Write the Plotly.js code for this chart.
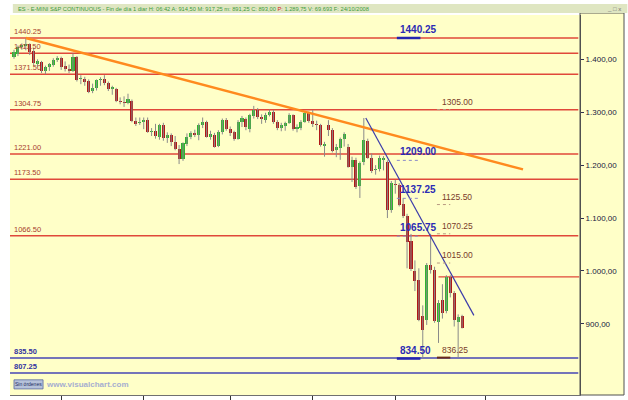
<!DOCTYPE html>
<html><head><meta charset="utf-8">
<script src="https://cdn.plot.ly/plotly-3.0.1.min.js"></script>
<style>html,body{margin:0;padding:0;background:#fff;}#chart{width:628px;height:400px;}</style>
</head><body><div id="chart"></div>
<script>
// ---- data ----
const dates = [
'2008-05-14','2008-05-15','2008-05-16','2008-05-19','2008-05-20','2008-05-21','2008-05-22','2008-05-23','2008-05-27','2008-05-28','2008-05-29','2008-05-30',
'2008-06-02','2008-06-03','2008-06-04','2008-06-05','2008-06-06','2008-06-09','2008-06-10','2008-06-11','2008-06-12','2008-06-13','2008-06-16','2008-06-17','2008-06-18','2008-06-19','2008-06-20','2008-06-23','2008-06-24','2008-06-25','2008-06-26','2008-06-27','2008-06-30',
'2008-07-01','2008-07-02','2008-07-03','2008-07-07','2008-07-08','2008-07-09','2008-07-10','2008-07-11','2008-07-14','2008-07-15','2008-07-16','2008-07-17','2008-07-18','2008-07-21','2008-07-22','2008-07-23','2008-07-24','2008-07-25','2008-07-28','2008-07-29','2008-07-30','2008-07-31',
'2008-08-01','2008-08-04','2008-08-05','2008-08-06','2008-08-07','2008-08-08','2008-08-11','2008-08-12','2008-08-13','2008-08-14','2008-08-15','2008-08-18','2008-08-19','2008-08-20','2008-08-21','2008-08-22','2008-08-25','2008-08-26','2008-08-27','2008-08-28','2008-08-29',
'2008-09-02','2008-09-03','2008-09-04','2008-09-05','2008-09-08','2008-09-09','2008-09-10','2008-09-11','2008-09-12','2008-09-15','2008-09-16','2008-09-17','2008-09-18','2008-09-19','2008-09-22','2008-09-23','2008-09-24','2008-09-25','2008-09-26','2008-09-29','2008-09-30',
'2008-10-01','2008-10-02','2008-10-03','2008-10-06','2008-10-07','2008-10-08','2008-10-09','2008-10-10','2008-10-13','2008-10-14','2008-10-15','2008-10-16','2008-10-17','2008-10-20','2008-10-21','2008-10-22','2008-10-23','2008-10-24'];
const futureDates = ['2008-10-27','2008-10-28','2008-10-29','2008-10-30','2008-10-31','2008-11-03','2008-11-04','2008-11-05','2008-11-06','2008-11-07','2008-11-10','2008-11-11','2008-11-12','2008-11-13','2008-11-14','2008-11-17','2008-11-18','2008-11-19','2008-11-20','2008-11-21','2008-11-24','2008-11-25','2008-11-26','2008-11-28','2008-12-01','2008-12-02','2008-12-03','2008-12-04','2008-12-05'];

const opens = [
1405,1410,1424,1426,1428,1415,1392,1395,1377,1385,1390,1399,
1402,1387,1382,1378,1404,1362,1362,1359,1340,1345,1360,1362,1355,1343,1344,1322,1319,1318,1322,1284,1279,
1282,1285,1263,1265,1254,1276,1251,1257,1243,1230,1212,1240,1254,1260,1256,1276,1282,1254,1257,1237,1263,1285,
1268,1262,1249,1282,1287,1268,1292,1304,1291,1286,1295,1301,1282,1270,1274,1280,1294,1268,1271,1282,1299,
1284,1278,1275,1236,1275,1266,1228,1232,1249,1235,1196,1210,1160,1205,1246,1214,1190,1192,1210,1205,1115,
1165,1162,1126,1103,1056,1000,982,914,907,1012,1002,904,946,925,989,958,903,914.5];
const highs = [
1418,1426,1430,1440.25,1430,1422,1400,1397,1388,1393,1402,1406,
1405,1396,1390,1411,1406,1370,1367,1362,1354,1362,1366,1370,1358,1350,1346,1328,1330,1335,1324,1290,1290,
1290,1290,1270,1278,1278,1280,1262,1260,1255,1238,1243,1260,1264,1267,1279,1290,1284,1265,1261,1266,1288,1289,
1273,1265,1285,1293,1290,1297,1312,1308,1296,1299,1305,1304,1285,1280,1282,1298,1296,1277,1285,1302,1301,
1304,1284,1278,1244,1285,1270,1240,1252,1262,1240,1216,1214,1207,1289,1250,1222,1200,1218,1217,1209,1170,
1172,1166,1137.25,1108,1070,1020,1005,935,1015,1070.25,1008,945,975,992,992,962,918,917.25];
const lows = [
1401,1406,1418,1417,1408,1388,1386,1374,1372,1378,1386,1395,
1380,1377,1374,1376,1358,1353,1350,1336,1336,1341,1350,1351,1340,1333,1319,1315,1310,1315,1281,1274,1276,
1268,1261,1255,1250,1248,1246,1242,1236,1228,1202,1208,1236,1249,1253,1247,1270,1252,1248,1233,1234,1258,1265,
1255,1246,1248,1272,1266,1262,1288,1287,1278,1280,1292,1278,1266,1264,1265,1278,1265,1262,1266,1280,1280,
1272,1266,1235,1216,1255,1224,1215,1210,1235,1195,1168,1155,1138,1200,1212,1185,1182,1188,1190,1100,1110,
1146,1122,1100,1005,1000,962,905,834.5,898,995,902,864,910,920,950,895,836.25,891.25];
const closes = [
1414,1424,1427,1429,1414,1393,1396,1377,1385,1391,1399,1402,
1386,1382,1378,1405,1361,1364,1358,1339,1346,1361,1362,1355,1344,1347,1321,1319,1318,1325,1283,1278,1282,
1285,1263,1265,1255,1276,1252,1257,1243,1230,1212,1241,1254,1260,1257,1276,1282,1254,1259,1235,1263,1285,1268,
1260,1249,1282,1289,1273,1294,1304,1291,1287,1295,1301,1282,1270,1275,1279,1295,1268,1272,1282,1299,1283,
1278,1276,1238,1240,1266,1227,1234,1250,1258,1197,1210,1159,1204,1247,1214,1189,1193,1214,1213,1115,1166,
1162,1125.5,1104,1055,1004,981,908,888,1012,1002,905,940,921,988,958,907,913,893];

const redLevels = [1440.25, 1411.50, 1371.50, 1304.75, 1221.00, 1173.50, 1066.50];
const redLevelLabels = ['1440.25','1411.50','1371.50','1304.75','1221.00','1173.50','1066.50'];
const blueLevels = [835.50, 807.25];
const blueLevelLabels = ['835.50','807.25'];
const partialLevelDate = '2008-10-16';
const partialLevelPrice = 989.00;
const orangeTrendDates = ['2008-05-19','2008-11-14'];
const orangeTrendPrices = [1440.25, 1192];
const blueTrendDates = ['2008-09-19','2008-10-29'];
const blueTrendPrices = [1289, 916];
const blueMarks = [1440.25, 1209.00, 1137.25, 1065.75, 834.50];
const blueMarkLabels = ['1440.25','1209.00','1137.25','1065.75','834.50'];
const brownMarks = [1305.00, 1125.50, 1070.25, 1015.00, 836.25];
const brownMarkLabels = ['1305.00','1125.50','1070.25','1015.00','836.25'];
const monthTickDates = ['2008-06-02','2008-07-01','2008-08-01','2008-09-02','2008-10-01','2008-11-03'];
const monthTickLabels = ['Jun','Jul','Ago','Sep','Oct','Nov'];
const yTickVals = [900,1000,1100,1200,1300,1400];
const yTickText = ['900,00','1.000,00','1.100,00','1.200,00','1.300,00','1.400,00'];
const headerText = 'ES - E-MINI S&P CONTINUOUS - Fin de día 1 diar H: 06:42 A: 914,50 M: 917,25 m: 891,25 C: 893,00 P: 1.289,75 V: 69.693 F: 24/10/2008';

// ---- styles (not data) ----
const blueUnderlineSolid = [true, false, false, false, true];
const brownUnderlineSolid = [false, false, false, false, true];

// ---- build ----
const axisDates = dates.concat(futureDates);
const idx = d => axisDates.indexOf(d);
const xs = dates.map(d => idx(d));

const wickX = [], wickY = [];
xs.forEach((x, i) => { wickX.push(x, x, null); wickY.push(lows[i], highs[i], null); });

const bodyBase = opens.map((o, i) => Math.min(o, closes[i]));
const bodyLen = opens.map((o, i) => Math.max(Math.abs(closes[i] - o), 1));
const bodyCol = opens.map((o, i) => closes[i] >= o ? '#2fb42f' : '#b01818');

const traces = [
  {type:'scatter', mode:'lines', x:wickX, y:wickY, line:{color:'#8a8a8a', width:1}, hoverinfo:'skip', showlegend:false},
  {type:'bar', x:xs, y:bodyLen, base:bodyBase, width:0.78, marker:{color:bodyCol, line:{width:0}}, hoverinfo:'skip', showlegend:false}
];

const shapes = [];
const annotations = [];
const RED = '#e0483a', BLUE = '#4646b4';

// right axis panel
shapes.push({type:'rect', xref:'paper', yref:'paper', x0:1, x1:1.0772, y0:0, y1:1.0053, fillcolor:'#ffffc8', line:{color:'#505050', width:1}, layer:'below'});
// header strip
shapes.push({type:'rect', xref:'paper', yref:'paper', x0:0.005, x1:1.083, y0:1.0053, y1:1.029, fillcolor:'#dfe6c2', line:{width:0}, layer:'below'});
annotations.push({xref:'paper', yref:'paper', x:0.011, y:1.017, xanchor:'left', yanchor:'middle', showarrow:false,
  text: headerText.replace('P: 1.289,75', '<span style="color:#d02020">P:</span> 1.289,75'),
  font:{family:'Arial', size:5.7, color:'#3c9a3c'}});
annotations.push({xref:'paper', yref:'paper', x:1.075, y:1.017, xanchor:'right', yanchor:'middle', showarrow:false,
  text:'_ □ x', font:{family:'Arial', size:6, color:'#707070'}});

// horizontal levels
redLevels.forEach((p, k) => {
  shapes.push({type:'line', xref:'paper', yref:'y', x0:0, x1:0.997, y0:p, y1:p, line:{color:RED, width:1.5}, layer:'below'});
  annotations.push({xref:'paper', yref:'y', x:0.004, y:p, xanchor:'left', yanchor:'bottom', showarrow:false,
    text:redLevelLabels[k], font:{family:'Arial', size:7.5, color:'#a8402e'}});
});
blueLevels.forEach((p, k) => {
  shapes.push({type:'line', xref:'paper', yref:'y', x0:0, x1:0.997, y0:p, y1:p, line:{color:BLUE, width:1.5}, layer:'below'});
  annotations.push({xref:'paper', yref:'y', x:0.004, y:p, xanchor:'left', yanchor:'bottom', showarrow:false,
    text:'<b>'+blueLevelLabels[k]+'</b>', font:{family:'Arial', size:7.5, color:'#3232a0'}});
});
shapes.push({type:'line', xref:'x', yref:'y', x0:idx(partialLevelDate), x1:143.8, y0:partialLevelPrice, y1:partialLevelPrice, line:{color:RED, width:1.3}, layer:'below'});

// trend lines
shapes.push({type:'line', xref:'x', yref:'y', x0:idx(orangeTrendDates[0]), x1:idx(orangeTrendDates[1]) + 0.5, y0:orangeTrendPrices[0], y1:orangeTrendPrices[1], line:{color:'#ff8a1e', width:2.4}});
shapes.push({type:'line', xref:'x', yref:'y', x0:idx(blueTrendDates[0]) + 0.5, x1:idx(blueTrendDates[1]), y0:blueTrendPrices[0], y1:blueTrendPrices[1], line:{color:'#3c3caa', width:1.2}});

// marker labels
const blueCol = idx('2008-10-01') + 0.6, brownCol = idx('2008-10-15') + 0.6;
blueMarks.forEach((p, k) => {
  shapes.push({type:'line', xref:'x', yref:'y', x0:blueCol - 0.2, x1:blueCol + 5.8, y0:p, y1:p,
    line: blueUnderlineSolid[k] ? {color:'#2424b0', width:2.5} : {color:'#8a8ac8', width:1, dash:'dot'}});
  annotations.push({xref:'x', yref:'y', x:blueCol, y:p, xanchor:'left', yanchor:'bottom', yshift:1, showarrow:false,
    text:'<b>'+blueMarkLabels[k]+'</b>', font:{family:'Arial', size:10, color:'#2b2bb4'}});
});
brownMarks.forEach((p, k) => {
  shapes.push({type:'line', xref:'x', yref:'y', x0:brownCol, x1:brownCol + 3.4, y0:p, y1:p,
    line: brownUnderlineSolid[k] ? {color:'#6a2a1a', width:2} : {color:'#b89a80', width:1, dash:'dot'}});
  annotations.push({xref:'x', yref:'y', x:brownCol + 0.9, y:p, xanchor:'left', yanchor:'bottom', yshift:1, showarrow:false,
    text:brownMarkLabels[k], font:{family:'Arial', size:8.5, color:'#7a3c2a'}});
});

// month labels below axis (cut by the window edge, as in the source)
monthTickDates.forEach((d, k) => {
  annotations.push({xref:'x', yref:'paper', x:idx(d), y:-0.004, xanchor:'left', yanchor:'top', xshift:1, showarrow:false,
    text:monthTickLabels[k], font:{family:'Arial', size:9, color:'#333'}});
});

// bottom-left button and site
shapes.push({type:'rect', xref:'paper', yref:'paper', x0:0.007, x1:0.058, y0:0.016, y1:0.040, fillcolor:'#b6c2da', line:{color:'#5a6aa0', width:0.8}});
annotations.push({xref:'paper', yref:'paper', x:0.0325, y:0.028, xanchor:'center', yanchor:'middle', showarrow:false,
  text:'Sin órdenes', font:{family:'Arial', size:5, color:'#1c2c60'}});
annotations.push({xref:'paper', yref:'paper', x:0.060, y:0.028, xanchor:'left', yanchor:'middle', showarrow:false,
  text:'<b>www.visualchart.com</b>', font:{family:'Arial', size:8, color:'#a6aed0'}});

const layout = {
  width:628, height:400,
  margin:{l:10, r:48, t:15, b:5},
  paper_bgcolor:'#ffffff', plot_bgcolor:'#ffffc8',
  showlegend:false, bargap:0,
  xaxis:{type:'linear', range:[-1.02, 144.0], showgrid:false, zeroline:false,
    tickvals: monthTickDates.map(idx), ticktext: monthTickLabels, showticklabels:false,
    ticks:'outside', ticklen:6, tickcolor:'#333', showline:true, linecolor:'#707070', linewidth:1, fixedrange:true},
  yaxis:{side:'right', range:[765.6, 1483.7], showgrid:false, zeroline:false,
    tickvals:yTickVals, ticktext:yTickText, ticks:'outside', ticklen:3, tickcolor:'#303050',
    tickfont:{family:'Arial', size:8, color:'#202040'}, showline:true, linecolor:'#505050', linewidth:1, fixedrange:true},
  shapes: shapes,
  annotations: annotations
};
Plotly.newPlot('chart', traces, layout, {staticPlot:true, displayModeBar:false});
</script>
</body></html>
